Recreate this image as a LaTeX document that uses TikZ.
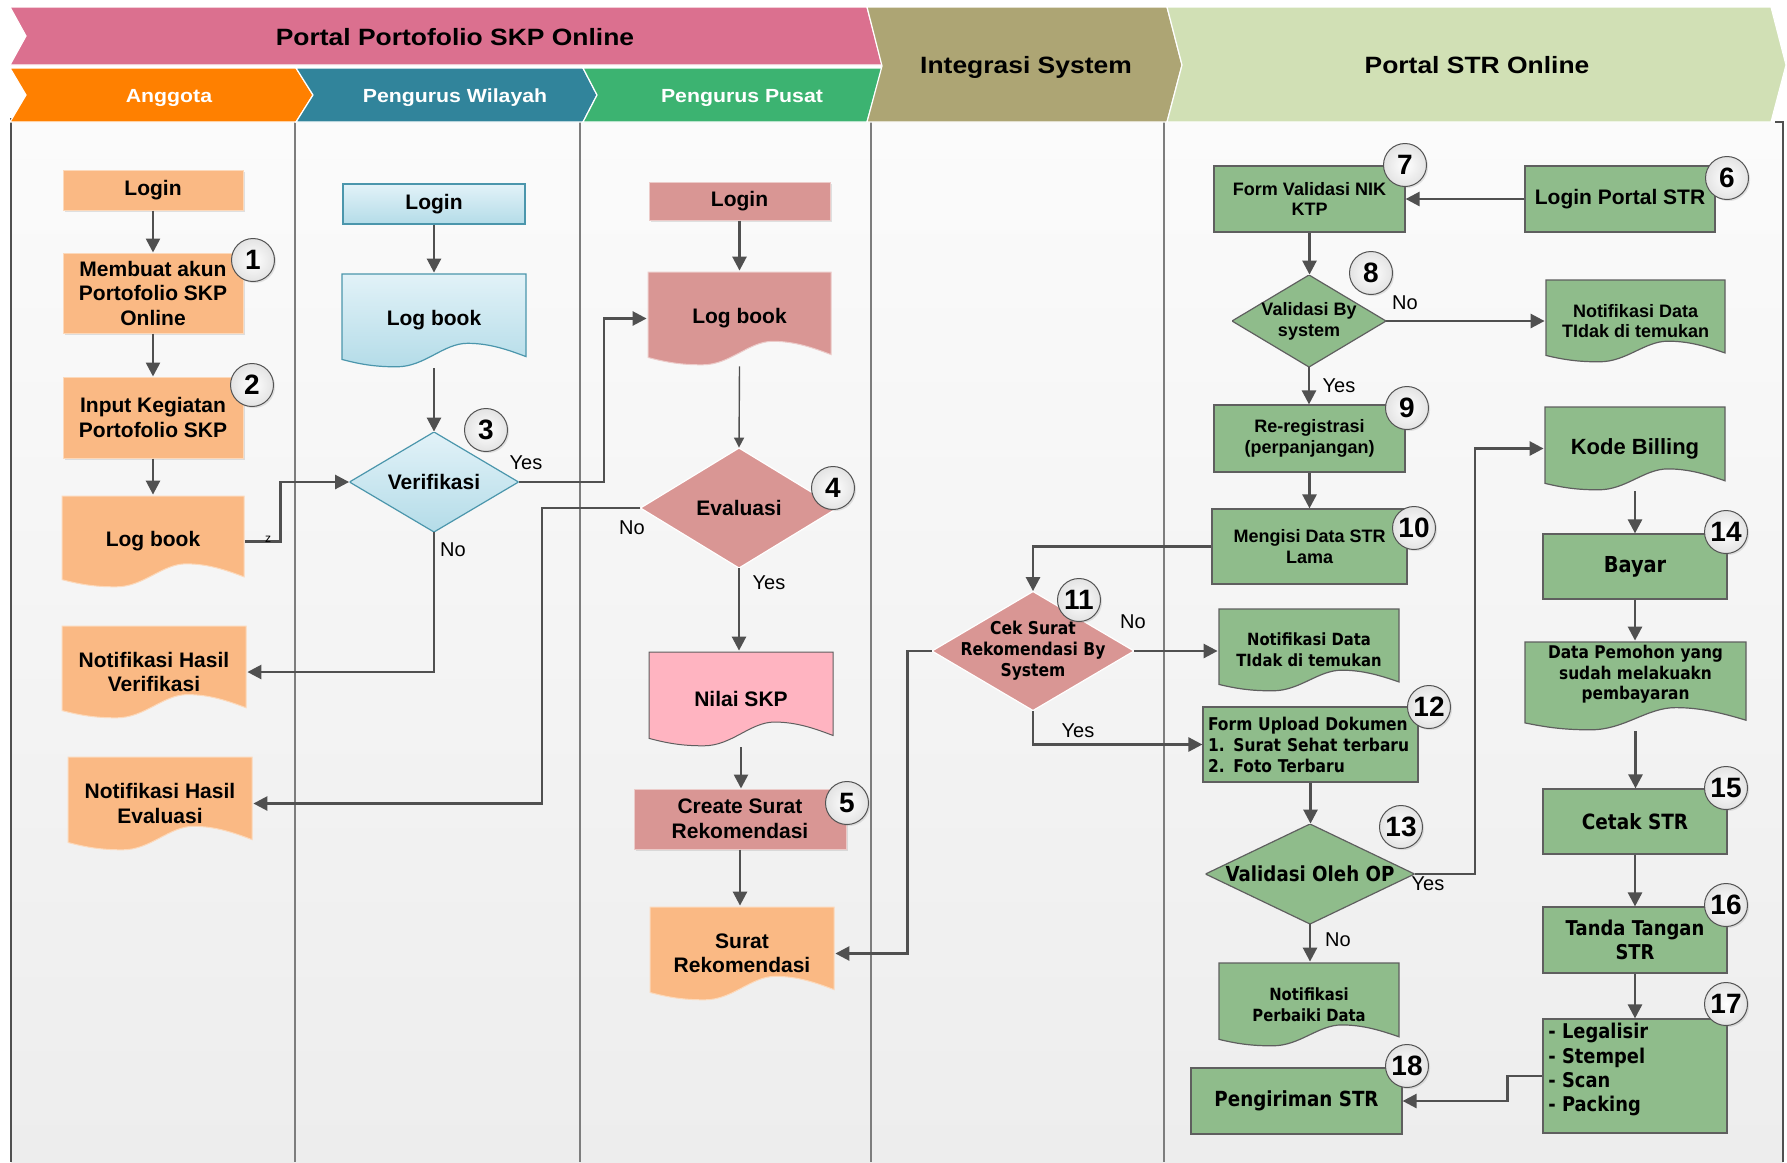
\documentclass[tikz,border=0pt]{standalone}
\usepackage{fontspec}
\setmainfont{Liberation Sans}
\newfontfamily\dv[FakeStretch=0.88]{DejaVu Sans}
\newfontfamily\hdr[FakeStretch=1.12]{Liberation Sans}
\usetikzlibrary{arrows.meta,calc,shadows}

\definecolor{orng}{RGB}{250,185,132}
\definecolor{hdrorange}{RGB}{255,128,0}
\definecolor{hdrteal}{RGB}{49,132,155}
\definecolor{hdrgreen}{RGB}{60,179,113}
\definecolor{hdrpink}{RGB}{219,112,143}
\definecolor{hdrolive}{RGB}{173,165,116}
\definecolor{hdrlight}{RGB}{209,224,181}
\definecolor{blutop}{RGB}{226,242,248}
\definecolor{blubot}{RGB}{180,220,232}
\definecolor{bluedge}{RGB}{75,150,172}
\definecolor{dpink}{RGB}{217,150,148}
\definecolor{npink}{RGB}{255,180,193}
\definecolor{grn}{RGB}{143,188,139}
\definecolor{grnedge}{RGB}{95,95,95}
\definecolor{arrgray}{RGB}{80,80,80}
\definecolor{lanetop}{RGB}{251,251,251}
\definecolor{lanebot}{RGB}{237,237,237}
\definecolor{laneline}{RGB}{125,125,125}

\newcommand\fA[2]{\bfseries\fontsize{#1}{#2}\selectfont}
\newcommand\fD[2]{\dv\bfseries\fontsize{#1}{#2}\selectfont}

\begin{document}
\begin{tikzpicture}[x=0.5pt,y=-0.5pt,
  wh/.style 2 args={minimum width=#1*0.5pt, minimum height=#2*0.5pt},
  base/.style={inner sep=0pt, align=center, text=black},
  shad/.style={drop shadow={shadow xshift=1pt, shadow yshift=-1pt, opacity=0.22}},
  obox/.style={base, rectangle, fill=orng, draw=orng!55!white, line width=0.5pt, shad, font=\fA{10.5}{12.25}},
  bbox/.style={base, rectangle, top color=blutop, bottom color=blubot, draw=bluedge, line width=0.6pt, font=\fA{10.5}{12.25}},
  pbox/.style={base, rectangle, fill=dpink, draw=dpink!50!white, line width=0.5pt, shad, font=\fA{10.5}{12.25}},
  gbox/.style={base, rectangle, fill=grn, draw=grnedge, line width=0.6pt, font=\fA{9}{10.35}},
  docpaint/.style={},
  diapaint/.style={},
  doc/.style={base, rectangle, path picture={
      \path[docpaint] let \p1=(path picture bounding box.south west), \p2=(path picture bounding box.north east) in
      (\x1+0.5pt,\y2-0.5pt) -- (\x2-0.5pt,\y2-0.5pt) -- (\x2-0.5pt,{\y1+0.12*(\y2-\y1)})
      .. controls ({\x1+0.9*(\x2-\x1)},{\y1+0.19*(\y2-\y1)}) and ({\x1+0.8*(\x2-\x1)},{\y1+0.26*(\y2-\y1)}) .. ({\x1+0.68*(\x2-\x1)},{\y1+0.26*(\y2-\y1)})
      .. controls ({\x1+0.55*(\x2-\x1)},{\y1+0.26*(\y2-\y1)}) and ({\x1+0.45*(\x2-\x1)},\y1+0.6pt) .. ({\x1+0.3*(\x2-\x1)},\y1+0.6pt)
      .. controls ({\x1+0.2*(\x2-\x1)},\y1+0.6pt) and ({\x1+0.12*(\x2-\x1)},{\y1+0.03*(\y2-\y1)}) .. (\x1+0.5pt,{\y1+0.09*(\y2-\y1)}) -- cycle;
    }},
  dia/.style={base, rectangle, path picture={
      \path[diapaint] (path picture bounding box.north) -- (path picture bounding box.east) -- (path picture bounding box.south) -- (path picture bounding box.west) -- cycle;
    }},
  odoc/.style={doc, font=\fA{10.5}{12.25}, docpaint/.style={fill=orng, draw=orng!55!white, line width=0.5pt}},
  bdoc/.style={doc, font=\fA{10.5}{12.25}, docpaint/.style={top color=blutop, bottom color=blubot, draw=bluedge, line width=0.6pt}},
  pdoc/.style={doc, font=\fA{10.5}{12.25}, docpaint/.style={fill=dpink, draw=dpink!50!white, line width=0.5pt}},
  ndoc/.style={doc, font=\fA{10.5}{12.25}, docpaint/.style={fill=npink, draw=grnedge, line width=0.5pt}},
  gdoc/.style={doc, font=\fA{9}{10.35}, docpaint/.style={fill=grn, draw=grnedge, line width=0.6pt}},
  bdia/.style={dia, font=\fA{10.5}{12.25}, diapaint/.style={top color=blutop, bottom color=blubot, draw=bluedge, line width=0.6pt}},
  pdia/.style={dia, font=\fA{10.5}{12.25}, diapaint/.style={fill=dpink, draw=white, line width=0.6pt}},
  gdia/.style={dia, font=\fA{9}{10.35}, diapaint/.style={fill=grn, draw=grnedge, line width=0.6pt}},
  arr/.style={draw=arrgray, line width=1.3pt, -{Triangle[length=7pt,width=7pt]}},
  thinarr/.style={draw=arrgray, line width=0.7pt, -{Triangle[length=5pt,width=5pt]}},
  badge/.style={circle, minimum size=21.5pt, inner sep=0pt, draw=gray!65!black, line width=0.5pt, inner color=white, outer color=gray!22, font=\fA{14}{16}, drop shadow={shadow xshift=0.8pt, shadow yshift=-0.8pt, opacity=0.2}},
  lbl/.style={inner sep=0pt, font=\fontsize{10}{12}\selectfont},
  hdrtxt/.style={anchor=base, inner sep=0pt, font=\hdr\bfseries\fontsize{11.8}{14}\selectfont},
  hdrtxt2/.style={anchor=base, inner sep=0pt, text=white, font=\hdr\bfseries\fontsize{9.5}{11}\selectfont}
]
\useasboundingbox (0,0) rectangle (1787,1162);
\fill[white] (0,0) rectangle (1787,1162);

% lanes
\shade[top color=lanetop, bottom color=lanebot] (11,122) rectangle (1783,1162);
\foreach \lx in {295,580,871,1164} \draw[laneline, line width=0.6pt] (\lx,122) -- (\lx,1162);
\draw[arrgray, line width=1.2pt] (11,118) -- (11,1162);
\draw[arrgray, line width=1.2pt] (1775,122) -- (1783,122) -- (1783,1162);

% header
\fill[hdrpink, draw=white, line width=0.6pt] (10,7) -- (867,7) -- (882,65) -- (10,65) -- (26,36) -- cycle;
\fill[hdrorange, draw=white, line width=0.6pt] (10,68) -- (296,68) -- (313,95) -- (296,122) -- (10,122) -- (26,95) -- cycle;
\fill[hdrteal, draw=white, line width=0.6pt] (296,68) -- (583,68) -- (597,95) -- (583,122) -- (296,122) -- (313,95) -- cycle;
\fill[hdrgreen, draw=white, line width=0.6pt] (583,68) -- (882,68) -- (867,122) -- (583,122) -- (597,95) -- cycle;
\fill[hdrolive, draw=white, line width=0.6pt] (867,7) -- (1167,7) -- (1182,65) -- (1167,122) -- (867,122) -- (882,66) -- cycle;
\fill[hdrlight, draw=white, line width=0.6pt] (1167,7) -- (1771,7) -- (1786,65) -- (1771,122) -- (1167,122) -- (1182,65) -- cycle;
\node[hdrtxt] (hPortal) at (455,45) {Portal Portofolio SKP Online};
\node[hdrtxt] (hInteg) at (1026,73) {Integrasi System};
\node[hdrtxt] (hSTR) at (1477,73) {Portal STR Online};
\node[hdrtxt2] (hAng) at (169,102) {Anggota};
\node[hdrtxt2] (hWil) at (455,102) {Pengurus Wilayah};
\node[hdrtxt2] (hPus) at (742,102) {Pengurus Pusat};

% lane 1: Anggota
\node[obox, wh={180}{40}] (aLogin) at (153,190) {Login};
\node[obox, wh={180}{80}] (aAkun) at (153,293) {Membuat akun\\Portofolio SKP\\Online};
\node[obox, wh={180}{81}] (aInput) at (153,417.5) {Input Kegiatan\\Portofolio SKP};
\node[odoc, wh={184}{93}] (aLog) at (153,541.5) {Log book};
\node[odoc, wh={186}{94}] (aNVer) at (154,672) {Notifikasi Hasil\\Verifikasi};
\node[odoc, wh={186}{95}] (aNEval) at (160,803.5) {Notifikasi Hasil\\Evaluasi};

% lane 2: Pengurus Wilayah
\node[bbox, wh={182}{40}] (wLogin) at (434,204) {Login};
\node[bdoc, wh={186}{95}] (wLog) at (434,320.5) {Log book};
\node[bdia, wh={169}{100}] (wVer) at (434,482) {Verifikasi};

% lane 3: Pengurus Pusat
\node[pbox, wh={181}{38}] (pLogin) at (739.5,201) {Login};
\node[pdoc, wh={185}{95}] (pLog) at (739.5,318.5) {Log book};
\node[pdia, wh={197}{120}] (pEval) at (739,508) {Evaluasi};
\node[ndoc, wh={186}{96}] (pNilai) at (741,699) {Nilai SKP};
\node[pbox, wh={212}{60}] (pCreate) at (740,819) {Create Surat\\Rekomendasi};
\node[odoc, wh={186}{95}] (pSurat) at (742,953.5) {Surat\\Rekomendasi};

% lane 4: Integrasi System
\node[pdia, wh={202}{119}, font=\fD{8.85}{10.5}] (iCek) at (1033,651) {Cek Surat\\Rekomendasi By\\System};

% lane 5: Portal STR
\node[gbox, wh={191}{66}] (sForm) at (1309.5,199) {Form Validasi NIK\\KTP};
\node[gbox, wh={190}{66}, font=\fA{10.5}{12}] (sLogin) at (1620,199) {Login Portal STR};
\node[gdia, wh={154}{92}] (sValBy) at (1309,321) {Validasi By\\system};
\node[gdoc, wh={181}{84}] (sNTop) at (1635.5,321) {Notifikasi Data\\TIdak di temukan};
\node[gbox, wh={191}{67}] (sRereg) at (1309.5,438.5) {Re-registrasi\\(perpanjangan)};
\node[gbox, wh={195}{75}] (sIsi) at (1309.5,546.5) {Mengisi Data STR\\Lama};
\node[gdoc, wh={182}{84}, font=\fD{8.4}{10.5}] (sNMid) at (1309,650) {Notifikasi Data\\TIdak di temukan};
\node[gbox, wh={215}{75}, font=\fD{8.8}{10.5}, align=left, text width=102.5pt, inner xsep=2.5pt] (sUp) at (1310.5,744.5) {Form Upload Dokumen\\1. Surat Sehat terbaru\\2. Foto Terbaru};
\node[gdia, wh={209}{100}, font=\fD{10.35}{12}] (sValOP) at (1310,874) {Validasi Oleh OP};
\node[gdoc, wh={182}{85}, font=\fD{8.4}{10.5}] (sNPerb) at (1309,1004.5) {Notifikasi\\Perbaiki Data};
\node[gbox, wh={211}{66}, font=\fD{10.4}{12}] (sKirim) at (1296.5,1101) {Pengiriman STR};
\node[gdoc, wh={182}{85}, font=\fA{11}{13}] (sKode) at (1635,448.5) {Kode Billing};
\node[gbox, wh={184}{65}, font=\fD{11}{13}] (sBayar) at (1635,566.5) {Bayar};
\node[gdoc, wh={223}{90}] (sData) at (1635.5,686) {};
\node[base, font=\fD{8.75}{10.25}] (sDataT) at (1635.5,674.5) {Data Pemohon yang\\sudah melakuakn\\pembayaran};
\node[gbox, wh={184}{65}, font=\fD{10.5}{12}] (sCetak) at (1635,821.5) {Cetak STR};
\node[gbox, wh={184}{66}, font=\fD{10.2}{12.25}] (sTanda) at (1635,940) {Tanda Tangan\\STR};
\node[gbox, wh={184}{114}] (sLegal) at (1635,1076) {};
\node[inner sep=0pt, anchor=north west, align=left, font=\fD{10.15}{12.15}] (sLegalT) at (1548,1023) {- Legalisir\\- Stempel\\- Scan\\- Packing};

% connectors
\draw[arr] (aLogin) -- (aAkun);
\draw[arr] (aAkun) -- (aInput);
\draw[arr] (aInput) -- (aLog);
\draw[arr] (aLog.east) -- ++(35,0) |- (wVer.west);
\draw[arr] (wLogin) -- (wLog);
\draw[arr] (wLog.south) -- (wVer.north);
\draw[arr] (wVer.east) -- ++(85,0) |- (pLog.west);
\draw[arr] (wVer.south) |- (aNVer.east);
\draw[arr] (pLogin) -- (pLog);
\draw[thinarr] (pLog.south) -- (pEval.north);
\draw[arr] (pEval.west) -- ++(-98,0) |- (aNEval.east);
\draw[arr] (pEval.south) -- (pEval.south |- pNilai.north);
\draw[arr] (pNilai.south) -- (pNilai.south |- pCreate.north);
\draw[arr] (pCreate.south) -- (pCreate.south |- pSurat.north);
\draw[arr] (iCek.west) -- ++(-24,0) |- (pSurat.east);
\draw[arr] (sIsi.west) -| (iCek.north);
\draw[arr] (iCek.east) -- (iCek.east -| sNMid.west);
\draw[arr] (iCek.south) |- (sUp.west);
\draw[arr] (sLogin.west) -- (sForm.east);
\draw[arr] (sForm.south) -- (sForm.south |- sValBy.north);
\draw[arr] (sValBy.east) -- (sNTop.west);
\draw[arr] (sValBy.south) -- (sValBy.south |- sRereg.north);
\draw[arr] (sRereg.south) -- (sRereg.south |- sIsi.north);
\draw[arr] (sUp.south) -- (sUp.south |- sValOP.north);
\draw[arr] (sValOP.east) -- ++(60,0) |- (sKode.west);
\draw[arr] (sValOP.south) -- (sValOP.south |- sNPerb.north);
\draw[arr] (sKode.south) -- (sKode.south |- sBayar.north);
\draw[arr] (sBayar.south) -- (sBayar.south |- sData.north);
\draw[arr] (sData.south) -- (sData.south |- sCetak.north);
\draw[arr] (sCetak) -- (sTanda);
\draw[arr] (sTanda) -- (sLegal);
\draw[arr] (sLegal.west) -- ++(-35,0) |- (sKirim.east);

% labels
\node[inner sep=0pt, font=\fontsize{6}{7}\selectfont] (zlbl) at (268,539) {z};
\node[lbl] (lY3) at (526,463) {Yes};
\node[lbl] (lN3) at (453,550) {No};
\node[lbl] (lN4) at (632,528) {No};
\node[lbl] (lY4) at (769,583) {Yes};
\node[lbl] (lN8) at (1405,303) {No};
\node[lbl] (lY8) at (1339,386) {Yes};
\node[lbl] (lN11) at (1133,622) {No};
\node[lbl] (lY11) at (1078,731) {Yes};
\node[lbl] (lY13) at (1428,884) {Yes};
\node[lbl] (lN13) at (1338,940) {No};

% badges
\node[badge] (b1) at (253,260) {1};
\node[badge] (b2) at (252,385) {2};
\node[badge] (b3) at (486,430) {3};
\node[badge] (b4) at (833,488) {4};
\node[badge] (b5) at (847,803) {5};
\node[badge] (b6) at (1727,178) {6};
\node[badge] (b7) at (1405,165) {7};
\node[badge] (b8) at (1371,273) {8};
\node[badge] (b9) at (1407,408) {9};
\node[badge] (b10) at (1414,528) {10};
\node[badge] (b11) at (1079,600) {11};
\node[badge] (b12) at (1429,707) {12};
\node[badge] (b13) at (1401,827) {13};
\node[badge] (b14) at (1726,532) {14};
\node[badge] (b15) at (1726,788) {15};
\node[badge] (b16) at (1726,905) {16};
\node[badge] (b17) at (1726,1004) {17};
\node[badge] (b18) at (1407,1066) {18};
\end{tikzpicture}
\end{document}
